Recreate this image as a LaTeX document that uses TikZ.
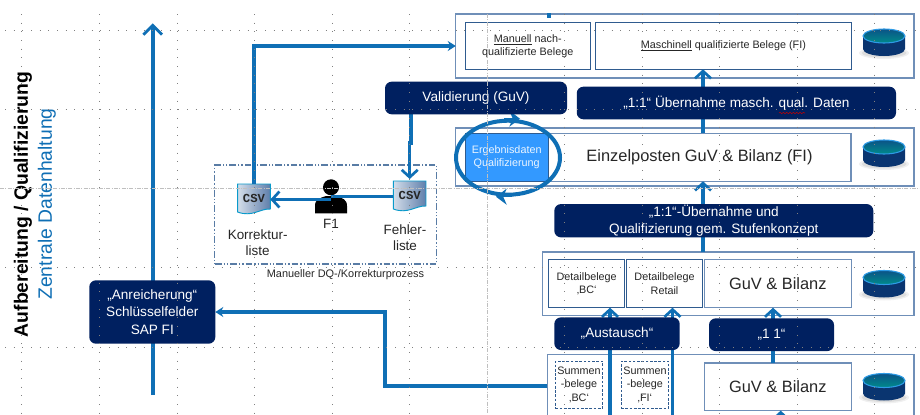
\documentclass[tikz,border=0pt]{standalone}
\usepackage{fontspec}
\setmainfont{Liberation Sans}
\setmonofont{Liberation Mono}
\usetikzlibrary{arrows.meta,calc,shapes.geometric,decorations.pathmorphing}
\pgfdeclarelayer{flowlayer}
\pgfdeclarelayer{navylayer}
\pgfdeclarelayer{gridlayer}
\pgfsetlayers{main,flowlayer,navylayer,gridlayer}
\definecolor{navyfill}{HTML}{002060}
\definecolor{flowblue}{HTML}{0F6FB5}
\definecolor{frameblue}{HTML}{6F8FB8}
\definecolor{innerblue}{HTML}{2F5B8F}
\definecolor{lightfill}{HTML}{3399FF}
\definecolor{textgrey}{HTML}{262626}
\definecolor{gridgrey}{HTML}{808080}
\definecolor{diskbody}{HTML}{0A3570}
\definecolor{diskrim}{HTML}{2E9BE6}
% database disk at centre x, top y
\newcommand{\dbdisk}[2]{%
  \fill[black,opacity=0.06] (#1,#2+24) ellipse (25 and 6);%
  \fill[black,opacity=0.08] (#1,#2+24) ellipse (22.5 and 4.5);%
  \fill[diskbody] (#1-21,#2+7) -- (#1-21,#2+20) arc (180:0:21 and 7) -- (#1+21,#2+7) -- cycle;%
  \shade[top color=flowblue!75!black,bottom color=teal!55!cyan!75!black,draw=diskrim,line width=0.8pt] (#1,#2+7) ellipse (21 and 7);%
}
% csv sheet, named node on top
\newcommand{\csvsheet}[3]{%
  \shade[left color=white!70!frameblue,right color=frameblue!85!navyfill,draw=flowblue!70!cyan,line width=0.7pt]
    (#2-16.3,#3-15.5) -- (#2+16.3,#3-15.5) -- (#2+16.3,#3+9.5)
    .. controls (#2+6,#3+9) and (#2-2,#3+18) .. (#2-16.3,#3+12.5) -- cycle;%
  \node[csvlabel] (#1) at (#2,#3) {\raisebox{2.2pt}{CSV}};%
}
\tikzset{
  span/.style 2 args={minimum width=#1*0.75pt,minimum height=#2*0.75pt},
  basebox/.style={inner sep=0pt,outer sep=0pt,align=center,text=textgrey},
  framebox/.style={basebox,draw=frameblue,fill=white,line width=0.9pt},
  innerbox/.style={basebox,draw=innerblue,fill=white,line width=0.8pt},
  summebox/.style={innerbox,dash pattern=on 2pt off 1.2pt,line width=0.6pt},
  navybox/.style={basebox,fill=navyfill,text=white,rounded corners=5pt,font=\fontsize{10.2}{13}\selectfont},
  smalltxt/.style={font=\fontsize{8.1}{10}\selectfont},
  bigtxt/.style={font=\fontsize{12.3}{15}\selectfont},
  midtxt/.style={basebox,font=\fontsize{10.1}{11.8}\selectfont},
  csvlabel/.style={basebox,span={32.6}{31},font=\fontsize{9.2}{10}\bfseries\ttfamily},
  flowline/.style={draw=flowblue,line width=2.3pt},
  flowbarb/.style={flowline,-{Straight Barb[length=5.5pt,width=12pt,line width=2pt]}},
  flowtip/.style={flowline,-{Stealth[length=6pt,width=7.5pt]}},
  griddots/.style={draw=gridgrey,line width=0.5pt,dash pattern=on 0.7pt off 5.8pt},
  gridchain/.style={draw=gridgrey!50,line width=0.3pt,dash pattern=on 3pt off 1pt on 0.7pt off 1pt},
}
\begin{document}
\begin{tikzpicture}[x=0.75pt,y=-0.75pt]
  \useasboundingbox (0,0) rectangle (920,414);
  \fill[white] (0,0) rectangle (920,414);

  % outer frames
  \node[framebox,span={458.3}{64}] (outerqual) at (684.9,46) {};
  \node[framebox,span={458.3}{58}] (outereinzel) at (684.9,157) {};
  \node[framebox,span={371.7}{63.3}] (outerdetail) at (728.2,283.7) {};
  \node[framebox,span={366.7}{75.4}] (outersumme) at (730.7,392) {};
  \fill[flowblue] (546.9,13) rectangle (550.5,17.5);

  % top level
  \node[innerbox,smalltxt,span={124.7}{46.6}] (manuell) at (527.7,46) {\underline{Manuell} nach-\\qualifizierte Belege};
  \node[innerbox,smalltxt,span={255.3}{46.6}] (maschinell) at (723.4,46) {\underline{Maschinell} qualifizierte Belege (FI)};
  \dbdisk{884}{29}

  % result level
  \node[framebox,bigtxt,span={303}{48}] (einzelposten) at (699.5,157.3) {Einzelposten GuV \& Bilanz (FI)};
  \node[innerbox,smalltxt,fill=lightfill,text=white!90!lightfill,span={82.7}{48}] (ergebnis) at (506.7,157.3) {Ergebnisdaten\\Qualifizierung};
  \dbdisk{884}{140}

  % detail level
  \node[innerbox,smalltxt,span={76}{48}] (detailbc) at (586.7,283.7) {Detailbelege\\‚BC‘};
  \node[innerbox,smalltxt,span={76.4}{48}] (detailretail) at (664.5,283.7) {Detailbelege\\Retail};
  \node[framebox,bigtxt,span={147}{48}] (guvdetail) at (777.8,283.7) {GuV \& Bilanz};
  \dbdisk{884}{270.5}

  % sum level
  \node[summebox,smalltxt,span={47.4}{47}] (summebc) at (579,384.8) {Summen\\-belege\\‚BC‘};
  \node[summebox,smalltxt,span={47.7}{47}] (summefi) at (644.9,384.8) {Summen\\-belege\\‚FI‘};
  \node[framebox,bigtxt,span={147}{47.7}] (guvsumme) at (777.8,386.8) {GuV \& Bilanz};
  \dbdisk{884}{373.5}

  % manual process
  \node[basebox,draw=innerblue!80,line width=0.8pt,dash pattern=on 5pt off 1.5pt on 1pt off 1.5pt on 1pt off 1.5pt,span={221.7}{99}] (manualbox) at (325.8,214.5) {};
  \node[midtxt,font=\fontsize{8.2}{10}\selectfont] (manuallabel) at (345.5,275) {Manueller DQ-/Korrekturprozess};
  \fill[black] (315,213.3) -- (315,206) .. controls (315,199) and (320,198) .. (326,196) -- (336,196) .. controls (342,198) and (347,199) .. (347,206) -- (347,213.3) -- cycle;
  \node[circle,fill=black,inner sep=0pt,outer sep=0pt,minimum size=12pt] (fiperson) at (331,187.3) {};
  \node[midtxt] (filabel) at (331,224) {F1};
  \csvsheet{korrekturcsv}{254}{199.5}
  \csvsheet{fehlercsv}{409.7}{196.5}
  \node[midtxt] (korrekturlabel) at (257.7,243) {Korrektur-\\liste};
  \node[midtxt] (fehlerlabel) at (405,237.5) {Fehler-\\liste};

  % dark process labels
  \begin{pgfonlayer}{navylayer}
  \node[navybox,span={126}{63.4}] (anreicherung) at (152.3,312) {„Anreicherung“\\Schlüsselfelder\\SAP FI};
  \node[navybox,span={182}{32.6}] (validierung) at (476,98) {Validierung (GuV)};
  \node[navybox,span={319.3}{32.6}] (uebernahme) at (736.4,103) {„1:1“ Übernahme masch. qual. Daten};
  \node[navybox,span={319}{33.3}] (stufen) at (713.8,220.7) {„1:1“-Übernahme und\\Qualifizierung gem. Stufenkonzept};
  \node[navybox,span={125.4}{32.7}] (austausch) at (617,333.7) {„Austausch“};
  \node[navybox,span={125}{32.7}] (einseins) at (771.5,334.7) {„1 1“};
  \draw[red!75!black,line width=0.4pt,decorate,decoration={snake,amplitude=0.5pt,segment length=2.5pt}] (779,113) -- (805,113);
  \end{pgfonlayer}

  % named bends and free ends
  \coordinate (axisbottom) at (152.7,395);
  \coordinate (axistop) at (152.7,23.3);
  \coordinate (bclane) at (610,416);
  \coordinate (retaillane) at (672.5,416);
  \coordinate (einslane) at (773,400);
  \coordinate (guvlane) at (780.7,416);
  \coordinate (mainlane) at (703,300);
  \coordinate (sumbend) at (385,386);
  \coordinate (valbend) at (411,143);

  % connectors
  \begin{pgfonlayer}{flowlayer}
  \draw[flowline,line width=3pt,-{Straight Barb[length=7pt,width=14pt,line width=2.2pt]}] (axisbottom) -- (axistop);
  \draw[flowtip] (korrekturcsv.north) |- (outerqual.west);
  \draw[flowbarb] (mainlane |- einzelposten.north) -- (mainlane |- maschinell.south);
  \draw[flowbarb] (mainlane |- outerdetail.north) -- (mainlane |- einzelposten.south);
  \draw[flowbarb] (bclane) -- (bclane |- detailbc.south);
  \draw[flowbarb] (retaillane) -- (retaillane |- detailretail.south);
  \draw[flowbarb] (einslane |- guvsumme.north) -- (einslane |- guvdetail.south);
  \draw[flowbarb] (guvlane) -- (guvlane |- guvsumme.south);
  \draw[flowtip] (outersumme.west |- sumbend) -- (sumbend) -- (sumbend |- anreicherung.east) -- (anreicherung.east);
  \draw[flowbarb] (valbend |- validierung.south) -- (valbend) -- (valbend -| fehlercsv.north) -- ([yshift=1.5]fehlercsv.north);
  \draw[flowline] (fehlercsv.west) -- (fiperson |- fehlercsv.west);
  \draw[flowbarb] (fiperson |- korrekturcsv.east) -- (korrekturcsv.east);
  \end{pgfonlayer}

  % loop round the result box
  \node[draw=flowblue,line width=3pt,ellipse,inner sep=0pt,span={104}{74}] (zyklus) at (508,157.7) {};
  \draw[flowblue,line width=1pt,-{Stealth[length=8pt,width=12pt]}] ([xshift=-3]zyklus.north) -- ([xshift=9]zyklus.north);
  \draw[flowblue,line width=1pt,-{Stealth[length=8pt,width=12pt]}] ([xshift=3]zyklus.south) -- ([xshift=-9]zyklus.south);

  % side titles
  \node[basebox,rotate=90,text=black,font=\fontsize{14.5}{16}\bfseries\selectfont] (titelqual) at (23,204.5) {Aufbereitung / Qualifizierung};
  \node[basebox,rotate=90,text=flowblue,font=\fontsize{14.5}{16}\selectfont] (titeldaten) at (47,204) {Zentrale Datenhaltung};

  % guide dots on top
  \begin{pgfonlayer}{gridlayer}
  \foreach \gx in {21.7,99,177,254.5,332,409.5,564,642,719,797,874}
    \draw[griddots] (\gx,14) -- (\gx,414);
  \foreach \gy in {30,109,267,347}
    \draw[griddots] (5,\gy) -- (920,\gy);
  \draw[gridchain] (0,188) -- (920,188);
  \draw[gridchain] (487,14) -- (487,414);
  \end{pgfonlayer}
\end{tikzpicture}
\end{document}
